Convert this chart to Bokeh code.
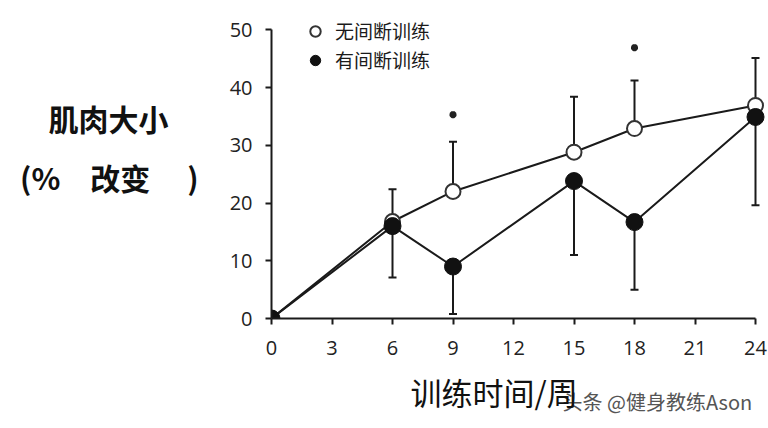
from bokeh.plotting import figure
from bokeh.models import (ColumnDataSource, FixedTicker, Whisker, TeeHead, Legend,
                          LegendItem, Range1d, Title, LinearAxis)
from bokeh.embed import file_html
from bokeh.resources import INLINE

# ---- data ----
weeks = [0, 6, 9, 15, 18, 24]
continuous = [0, 16.8, 22.0, 28.8, 32.9, 36.9]          # 无间断训练
continuous_err_upper = [None, 22.4, 30.6, 38.4, 41.2, 45.1]
interrupted = [0, 16.0, 9.0, 23.8, 16.7, 34.9]          # 有间断训练
interrupted_err_lower = [None, 7.1, 0.8, 11.0, 5.0, 19.6]
sig_weeks = [9, 18]
sig_y = [35.3, 46.9]
x_ticks = [0, 3, 6, 9, 12, 15, 18, 21, 24]
y_ticks = [0, 10, 20, 30, 40, 50]
series_names = ["无间断训练", "有间断训练"]
y_title_lines = ["肌肉大小\u3000", "\u3000", "(%\u3000改变\u3000 )", "\u3000"]
x_title = "训练时间/周"
watermark = "头条 @健身教练Ason"

CJK = "Noto Sans CJK SC"
INK = "#1a1a1a"

# frame: left edge at x=0 (px 271), bottom edge at y=0 (px 318)
X0, X24 = 271, 755
Y0, Y50 = 318, 29.3
XPX = (X24 - X0) / 24.0
YPX = (Y0 - Y50) / 50.0
TOP = 5
p = figure(width=768, height=428, output_backend="svg", toolbar_location=None,
           x_range=Range1d(0, 24 + (768 - X24) / XPX),
           y_range=Range1d(0, 50 + (Y50 - TOP) / YPX),
           min_border_left=X0, min_border_right=0, min_border_top=TOP,
           min_border_bottom=428 - Y0)
p.outline_line_color = None
p.grid.visible = False
p.background_fill_color = "white"
p.border_fill_color = "white"

for ax, ticks, bounds in ((p.xaxis[0], x_ticks, (0, 24)), (p.yaxis[0], y_ticks, (0, 50))):
    ax.bounds = bounds
    ax.ticker = FixedTicker(ticks=ticks)
    ax.major_tick_out = 6
    ax.major_tick_in = 0
    ax.minor_tick_out = 0
    ax.minor_tick_in = 0
    ax.axis_line_width = 2
    ax.axis_line_color = INK
    ax.major_tick_line_width = 2
    ax.major_tick_line_color = INK
    ax.major_label_text_font = "Open Sans"
    ax.major_label_text_font_size = "20px"
    ax.major_label_text_color = "#222222"
p.xaxis[0].major_label_standoff = 16
p.yaxis[0].major_label_standoff = 13

# y title carried by a tick-less axis in the left panel
title_axis = LinearAxis(ticker=FixedTicker(ticks=[]),
                        axis_line_color=None, major_tick_line_color=None,
                        minor_tick_line_color=None, major_tick_out=0, minor_tick_out=0,
                        major_label_standoff=0, axis_label="\n".join(y_title_lines),
                        axis_label_orientation="horizontal",
                        axis_label_text_font=CJK, axis_label_text_font_style="bold",
                        axis_label_text_font_size="30px",
                        axis_label_text_line_height=0.67,
                        axis_label_text_color="#111111", axis_label_standoff=28)
p.add_layout(title_axis, "left")

# below panel: watermark first (zero height, drawn lower), then the x title
p.add_layout(Title(text=watermark, align="left", offset=562 - X0, standoff=-117,
                   text_font=CJK, text_font_size="20px", text_font_style="normal",
                   text_color="#555555"), "below")
p.add_layout(Title(text=x_title, align="left", offset=410 - X0, standoff=19,
                   text_font=CJK, text_font_size="31px", text_font_style="normal",
                   text_color="#111111"), "below")

# error bars
ob = [(w, v, e) for w, v, e in zip(weeks, continuous, continuous_err_upper) if e is not None]
src_o = ColumnDataSource(dict(base=[a for a, _, _ in ob], lower=[b for _, b, _ in ob],
                              upper=[c for _, _, c in ob]))
ib = [(w, v, e) for w, v, e in zip(weeks, interrupted, interrupted_err_lower) if e is not None]
src_i = ColumnDataSource(dict(base=[a for a, _, _ in ib], lower=[c for _, _, c in ib],
                              upper=[b for _, b, _ in ib]))
p.add_layout(Whisker(source=src_o, base="base", lower="lower", upper="upper",
                     upper_head=TeeHead(size=8, line_width=2, line_color=INK),
                     lower_head=None, line_width=2, line_color=INK))
p.add_layout(Whisker(source=src_i, base="base", lower="lower", upper="upper",
                     lower_head=TeeHead(size=8, line_width=2, line_color=INK),
                     upper_head=None, line_width=2, line_color=INK))

src = ColumnDataSource(dict(weeks=weeks, cont=continuous, inter=interrupted))
p.line("weeks", "inter", source=src, line_width=2, line_color=INK)
p.line("weeks", "cont", source=src, line_width=2, line_color=INK)
r_open = p.scatter("weeks", "cont", source=src, marker="circle", size=15,
                   fill_color="white", line_color="#333333", line_width=2)
r_fill = p.scatter("weeks", "inter", source=src, marker="circle", size=17,
                   fill_color="#111111", line_color="#111111", line_width=1)
p.scatter(sig_weeks, sig_y, marker="asterisk", size=7, line_width=2.5, line_color="#222222")

# legend: first glyph centred at px (315, 32)
legend = Legend(items=[LegendItem(label=series_names[0], renderers=[r_open]),
                       LegendItem(label=series_names[1], renderers=[r_fill])],
                location=(315 - 13 - X0, Y0 - (32 - 13 + 54)),
                background_fill_alpha=0, border_line_color=None,
                label_text_font=CJK, label_text_font_size="19px", label_text_color=INK,
                glyph_width=26, glyph_height=26, label_height=26, spacing=2,
                padding=0, margin=0, label_standoff=7)
p.add_layout(legend)

open("out.html", "w").write(file_html(p, INLINE))
